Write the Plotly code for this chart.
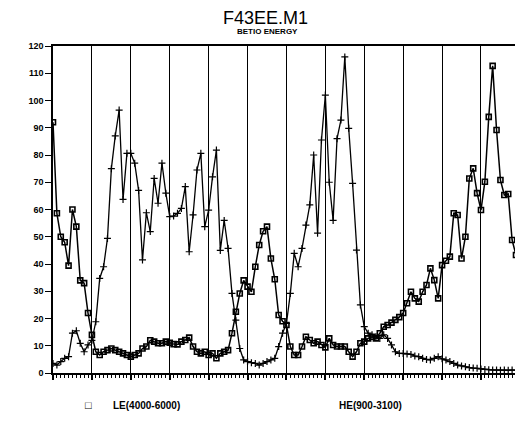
import plotly.graph_objects as go

# sample index (x axis)
x_index = list(range(120))

# HE(900-3100) series (plus markers)
he_values = [3.5, 2.9, 4.2, 5.4, 6, 14.6, 15.5, 10.9, 7.8, 10.3,
             12, 18.8, 34.7, 39, 49.4, 75, 87, 96.5, 63.7, 80.6,
             80.6, 77, 67, 41.5, 58.8, 51.9, 71.4, 62.3, 77, 66,
             57.4, 57.6, 58.6, 60.4, 68.4, 44.5, 58, 74.5, 80.6, 53.7,
             59.8, 72, 81.8, 45, 56, 45.7, 29.2, 19.4, 9, 4.8,
             4.2, 3.8, 3.5, 2.9, 3.5, 4.2, 4.8, 5.4, 9.7, 14.6,
             18.2, 29.2, 43.9, 39, 45.7, 54.3, 61.7, 80, 51.3, 85.5,
             102, 70, 56, 86, 92.8, 116, 89.8, 69.6, 45.1, 25,
             17, 14.6, 14, 13.3, 12.7, 14, 12.7, 10.3, 7.8, 7.2,
             7.2, 7, 6.8, 6.2, 6, 5.4, 5, 4.8, 5.4, 6,
             5.2, 4.8, 4.2, 3.5, 2.9, 2.6, 2.3, 2, 1.8, 1.7,
             1.5, 1.3, 1.2, 1.1, 1.1, 1.0, 1.1, 1.0, 1.1, 1.0]

# LE(4000-6000) series (square markers)
le_values = [92, 58.6, 50, 48, 39.4, 60, 53.7, 34, 33, 22,
             14, 7.8, 6.6, 7.8, 8.4, 9, 8.4, 7.8, 7.2, 6.6,
             6, 6.6, 7.2, 9, 9.7, 12, 11.5, 10.9, 10.9, 11.5,
             11.1, 10.6, 10.5, 11.5, 12.1, 13, 9.7, 7.8, 7.2, 7.8,
             6.6, 7.2, 5.4, 7.2, 7.8, 8.4, 14.6, 22.5, 29.2, 34,
             31.7, 29.8, 39, 47, 52, 53.7, 42, 34.4, 21.3, 19,
             17.6, 9.7, 6.6, 6.6, 9.7, 13.3, 12.1, 10.9, 11.5, 10.3,
             9.4, 12.7, 10.3, 9.7, 9.7, 9.7, 7.8, 6, 7.8, 10.9,
             11.5, 12.7, 13.3, 12.7, 14.6, 17, 17.6, 18.5, 19.5, 20.5,
             22, 25.6, 29.8, 27.4, 26.2, 29.8, 32.3, 38.4, 34.1, 27.4,
             39.6, 41.2, 42.7, 58.6, 58, 42, 50, 71.4, 75.1, 66,
             59.8, 70.2, 94, 112.7, 89.2, 70.8, 65.3, 65.7, 48.8, 43.3]

y_ticks = [0, 10, 20, 30, 40, 50, 60, 70, 80, 90, 100, 110, 120]

title_text = "F43EE.M1"
subtitle_text = "BETIO ENERGY"
le_label = "LE(4000-6000)"
he_label = "HE(900-3100)"

# The page body adds an 8px margin, so the figure is drawn 8px in from the
# window's top-left corner; the figure is sized to fit inside the window.
OFF = 8
W, H = 523 - OFF, 429 - OFF
L, R, T, B = 53 - OFF, W - (518 - OFF), 46 - OFF, H - (373 - OFF)

fig = go.Figure()
fig.add_trace(go.Scatter(
    x=x_index, y=he_values, mode="lines+markers", name=he_label,
    line=dict(color="black", width=1.3),
    marker=dict(symbol="cross-thin", size=5, line=dict(color="black", width=1.2)),
))
fig.add_trace(go.Scatter(
    x=x_index, y=le_values, mode="lines+markers", name=le_label,
    line=dict(color="black", width=1.5),
    marker=dict(symbol="square-open", size=5, color="black", line=dict(color="black", width=1.6)),
))

pw, ph = W - L - R, H - T - B
def px(xp):
    return (xp - OFF - L) / pw
def py(yp):
    return (H - B - (yp - OFF)) / ph

fig.update_layout(
    width=W, height=H,
    margin=dict(l=L, r=R, t=T, b=B),
    paper_bgcolor="white", plot_bgcolor="white",
    showlegend=False,
    font=dict(family="Liberation Sans", color="black"),
    annotations=[
        dict(text=title_text, x=px(266), y=py(18), xref="paper", yref="paper",
             xanchor="center", yanchor="middle", showarrow=False, font=dict(size=18)),
        dict(text=subtitle_text, x=px(268), y=py(32), xref="paper", yref="paper",
             xanchor="center", yanchor="middle", showarrow=False,
             font=dict(size=8, weight="bold")),
        dict(text="\u25a1", x=px(89), y=py(405), xref="paper", yref="paper",
             xanchor="center", yanchor="middle", showarrow=False,
             font=dict(size=11, weight="bold")),
        dict(text=le_label, x=px(111), y=py(405), xref="paper", yref="paper",
             xanchor="left", yanchor="middle", showarrow=False,
             font=dict(size=10, weight="bold")),
        dict(text=he_label, x=px(338), y=py(405), xref="paper", yref="paper",
             xanchor="left", yanchor="middle", showarrow=False,
             font=dict(size=10, weight="bold")),
    ],
)

fig.update_xaxes(
    range=[0, 119], tickmode="linear", tick0=0, dtick=10,
    showticklabels=False, ticks="outside", ticklen=5, tickwidth=1.5, tickcolor="black",
    showgrid=True, gridcolor="black", gridwidth=1.4,
    showline=True, linecolor="black", linewidth=1.5, mirror=True,
    zeroline=False,
    minor=dict(ticks="outside", dtick=1, ticklen=3, tickwidth=1, tickcolor="black", showgrid=False),
)
fig.update_yaxes(
    range=[0, 120], tickmode="array", tickvals=y_ticks,
    ticks="outside", ticklen=6, tickwidth=1.3, tickcolor="black",
    tickfont=dict(size=9, weight="bold", family="Liberation Sans"),
    showgrid=False, zeroline=False,
    showline=True, linecolor="black", linewidth=1.5, mirror=True,
)

fig.write_html("out.html")
